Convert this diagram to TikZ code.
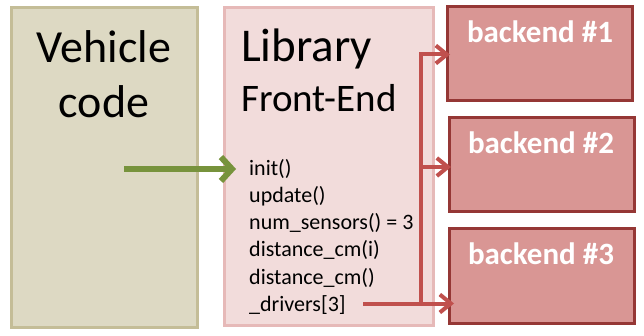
\documentclass[tikz,border=0pt]{standalone}
\usepackage{fontspec}
\setmainfont{Carlito}
\usetikzlibrary{arrows.meta}
\definecolor{vfill}{HTML}{DDD9C3}
\definecolor{vline}{HTML}{C4BD97}
\definecolor{lfill}{HTML}{F2DCDB}
\definecolor{lline}{HTML}{E6B9B8}
\definecolor{bfill}{HTML}{D99694}
\definecolor{bline}{HTML}{953735}
\definecolor{rarrow}{HTML}{C0504D}
\definecolor{garrow}{HTML}{77933C}
\tikzset{
  panel/.style={draw, line width=3pt, anchor=north west, inner sep=0pt, outer sep=0pt},
  vehbox/.style={panel, fill=vfill, draw=vline},
  libbox/.style={panel, fill=lfill, draw=lline},
  bebox/.style={panel, fill=bfill, draw=bline, minimum width=185pt, minimum height=94pt},
  betext/.style={font=\fontsize{31}{37}\selectfont\bfseries, text=white, anchor=base, inner sep=0pt},
  bigtext/.style={font=\fontsize{46}{55}\selectfont, anchor=base, inner sep=0pt},
  fn/.style={font=\fontsize{22}{27}\selectfont, anchor=base west, inner sep=0pt},
  ra/.style={draw=rarrow, line width=4pt, -{Straight Barb[length=11pt,width=18pt,line width=4pt]}},
  ga/.style={draw=garrow, line width=6pt, -{Straight Barb[length=11pt,width=24pt,line width=6pt]}}
}
\begin{document}
\begin{tikzpicture}[x=1pt,y=-1pt]
\useasboundingbox (0,0) rectangle (644,336);
\node[vehbox, minimum width=186pt, minimum height=319pt] (veh) at (11,8) {};
\node[libbox, minimum width=209pt, minimum height=317pt] (lib) at (224,8) {};
\node[bebox] (b1) at (447,7) {};
\node[bebox] (b2) at (449,118) {};
\node[bebox] (b3) at (449,229) {};

\node[bigtext] (t1) at (104,63) {Vehicle};
\node[bigtext] (t2) at (104,118) {code};
\node[bigtext, anchor=base west, font=\fontsize{47}{55}\selectfont] (t3) at (241,62) {Library};
\node[bigtext, anchor=base west, font=\fontsize{39}{47}\selectfont] (t4) at (241,112) {Front-End};

\node[fn] (init) at (249,176) {init()};
\node[fn] (upd) at (249,203) {update()};
\node[fn] (num) at (249,230) {num\_sensors() = 3};
\node[fn] (d1) at (249,257) {distance\_cm(i)};
\node[fn] (d2) at (249,284) {distance\_cm()};
\node[fn] (drv) at (249,311) {\_drivers[3]};

\node[betext] (bt1) at (540,43) {backend \#1};
\node[betext] (bt2) at (541,154) {backend \#2};
\node[betext] (bt3) at (541,265) {backend \#3};

\coordinate (gs) at (124,169);
\coordinate (ge) at (236,169);
\draw[ga] (gs) -- (ge);

\coordinate (ds) at (363,303.5);
\coordinate (j) at (420.5,303.5);
\coordinate (e3) at (454,303.5);
\coordinate (e1) at (450,54.5);
\coordinate (e2) at (451,167);
\draw[ra] (ds) -- (e3);
\draw[ra] (j) |- (e1);
\draw[ra] (j |- e2) -- (e2);
\end{tikzpicture}
\end{document}
